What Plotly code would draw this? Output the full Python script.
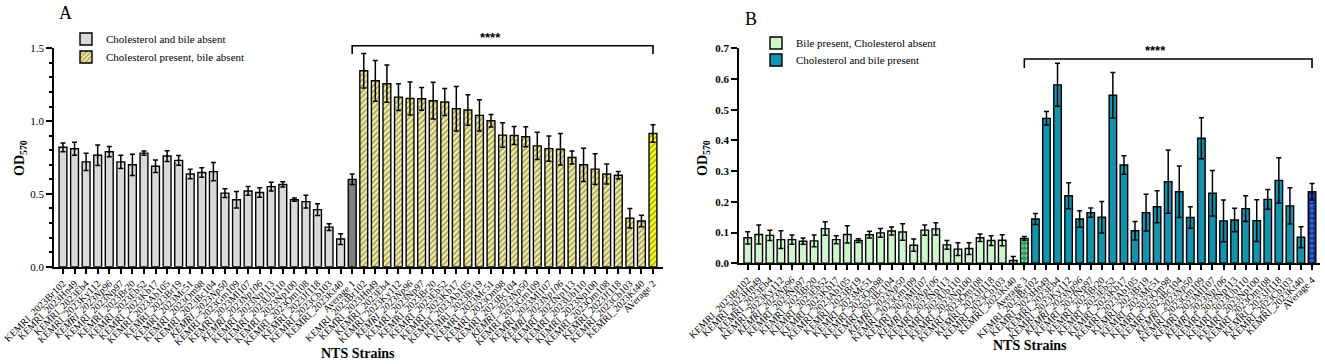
import plotly.graph_objects as go

# ---------------- data ----------------
strains = ["KEMRI_2023Br102", "KEMRI_2023Hn49", "KEMRI_2023Eb4", "KEMRI_2023Ky112", "KEMRI_2023Np96",
           "KEMRI_2023Np97", "KEMRI_2023Br20", "KEMRI_2023Eb52", "KEMRI_2023Kb17", "KEMRI_2023Ab105",
           "KEMRI_2023Br19", "KEMRI_2023Mc51", "KEMRI_2023Om98", "KEMRI_2023Bc104", "KEMRI_2023Np50",
           "KEMRI_2023Gm109", "KEMRI_2023Ml107", "KEMRI_2023Np106", "KEMRI_2023Np113", "KEMRI_2023Ub110",
           "KEMRI_2023Np100", "KEMRI_2023Om108", "KEMRI_2023Jf118", "KEMRI_2023Cb103", "KEMRI_2023Kt40"]
italic_strains = ["KEMRI_2023Np96", "KEMRI_2023Np50", "KEMRI_2023Np106"]
avg_labels_A = ["Average 1", "AVerage 2"]
avg_labels_B = ["Average 3", "AVerage 4"]

# Panel A
a_g1 = [0.82, 0.81, 0.72, 0.765, 0.79, 0.72, 0.70, 0.78, 0.69, 0.76, 0.73, 0.637, 0.647, 0.653, 0.505,
        0.46, 0.52, 0.51, 0.55, 0.565, 0.46, 0.447, 0.392, 0.272, 0.19]
a_g1_err = [0.03, 0.045, 0.06, 0.07, 0.035, 0.046, 0.073, 0.015, 0.043, 0.037, 0.033, 0.033, 0.033, 0.062,
            0.03, 0.057, 0.03, 0.033, 0.03, 0.018, 0.011, 0.043, 0.041, 0.023, 0.037]
a_avg1, a_avg1_err = 0.60, 0.036
a_g2 = [1.346, 1.277, 1.257, 1.165, 1.155, 1.153, 1.14, 1.131, 1.085, 1.076, 1.039, 1.002, 0.904, 0.901,
        0.892, 0.83, 0.811, 0.807, 0.75, 0.70, 0.67, 0.637, 0.628, 0.333, 0.314]
a_g2_err = [0.119, 0.14, 0.128, 0.092, 0.113, 0.078, 0.126, 0.093, 0.153, 0.105, 0.107, 0.043, 0.084, 0.062,
            0.069, 0.094, 0.086, 0.108, 0.044, 0.114, 0.105, 0.069, 0.025, 0.067, 0.039]
a_avg2, a_avg2_err = 0.915, 0.06

# Panel B
b_g3 = [0.083, 0.094, 0.091, 0.077, 0.077, 0.072, 0.073, 0.113, 0.077, 0.094, 0.074, 0.093, 0.099, 0.105,
        0.102, 0.059, 0.108, 0.112, 0.06, 0.046, 0.048, 0.083, 0.074, 0.075, 0.009]
b_g3_err = [0.02, 0.031, 0.017, 0.029, 0.015, 0.01, 0.019, 0.022, 0.013, 0.028, 0.006, 0.011, 0.014, 0.013,
            0.027, 0.02, 0.017, 0.02, 0.014, 0.021, 0.019, 0.012, 0.016, 0.018, 0.013]
b_avg3, b_avg3_err = 0.081, 0.006
b_g4 = [0.144, 0.472, 0.581, 0.22, 0.144, 0.165, 0.15, 0.547, 0.32, 0.106, 0.165, 0.184, 0.266, 0.233,
        0.149, 0.407, 0.228, 0.138, 0.141, 0.178, 0.139, 0.208, 0.27, 0.187, 0.085]
b_g4_err = [0.018, 0.022, 0.07, 0.042, 0.027, 0.015, 0.051, 0.074, 0.03, 0.03, 0.06, 0.052, 0.103, 0.084,
            0.035, 0.067, 0.074, 0.068, 0.038, 0.042, 0.068, 0.032, 0.074, 0.059, 0.034]
b_avg4, b_avg4_err = 0.233, 0.027

legend_A = ["Cholesterol and bile absent", "Cholesterol present, bile absent"]
legend_B = ["Bile present, Cholesterol absent", "Cholesterol and bile present"]

# ---------------- styling ----------------
SERIF = "Liberation Serif"
W, H = 1325, 364
BW = 0.68
n = len(strains)

def fmt(s):
    return "<i>" + s + "</i>" if s in italic_strains else s

tick_A = [fmt(s) for s in strains] + [avg_labels_A[0]] + [fmt(s) for s in strains] + [avg_labels_A[1]]
tick_B = [fmt(s) for s in strains] + [avg_labels_B[0]] + [fmt(s) for s in strains] + [avg_labels_B[1]]
pos_g1 = list(range(n))
pos_avg1 = [n]
pos_g2 = list(range(n + 1, 2 * n + 1))
pos_avg2 = [2 * n + 1]
all_pos = list(range(2 * n + 2))

xrA = [-0.75, 2 * n + 1 + 0.84]
xrB = [-0.76, 2 * n + 1 + 0.72]

line = dict(color="black", width=1.4)

def err(arr):
    return dict(type="data", array=arr, visible=True, color="black", thickness=1.5, width=2.5)

fig = go.Figure()

# Panel A traces
fig.add_trace(go.Bar(x=pos_g1, y=a_g1, error_y=err(a_g1_err), width=BW, name=legend_A[0],
                     marker=dict(color="#d9d9d9", line=line), xaxis="x", yaxis="y", legend="legend"))
fig.add_trace(go.Bar(x=pos_avg1, y=[a_avg1], error_y=err([a_avg1_err]), width=BW, showlegend=False,
                     marker=dict(color="#7f7f7f", line=line), xaxis="x", yaxis="y"))
fig.add_trace(go.Bar(x=pos_g2, y=a_g2, error_y=err(a_g2_err), width=BW, name=legend_A[1],
                     marker=dict(color="#f2ec9c", line=line,
                                 pattern=dict(shape="/", fgcolor="#3a3a28", size=4, solidity=0.35,
                                              fillmode="overlay")),
                     xaxis="x", yaxis="y", legend="legend3"))
fig.add_trace(go.Bar(x=pos_avg2, y=[a_avg2], error_y=err([a_avg2_err]), width=BW, showlegend=False,
                     marker=dict(color="#ffff1a", line=line,
                                 pattern=dict(shape="/", fgcolor="#3a3a28", size=4, solidity=0.35,
                                              fillmode="overlay")),
                     xaxis="x", yaxis="y"))

# Panel B traces
fig.add_trace(go.Bar(x=pos_g1, y=b_g3, error_y=err(b_g3_err), width=BW, name=legend_B[0],
                     marker=dict(color="#cdf6cd", line=line), xaxis="x2", yaxis="y2", legend="legend2"))
fig.add_trace(go.Bar(x=pos_avg1, y=[b_avg3], error_y=err([b_avg3_err]), width=BW, showlegend=False,
                     marker=dict(color="#1f9e55", line=line,
                                 pattern=dict(shape=".", fgcolor="white", size=5, solidity=0.4,
                                              fillmode="overlay")),
                     xaxis="x2", yaxis="y2"))
fig.add_trace(go.Bar(x=pos_g2, y=b_g4, error_y=err(b_g4_err), width=BW, name=legend_B[1],
                     marker=dict(color="#1592ad", line=line), xaxis="x2", yaxis="y2", legend="legend4"))
fig.add_trace(go.Bar(x=pos_avg2, y=[b_avg4], error_y=err([b_avg4_err]), width=BW, showlegend=False,
                     marker=dict(color="#1b2a9e", line=line,
                                 pattern=dict(shape=".", fgcolor="#38c6e0", size=5, solidity=0.4,
                                              fillmode="overlay")),
                     xaxis="x2", yaxis="y2"))

axis_common = dict(showline=True, linecolor="black", linewidth=2, ticks="outside", tickcolor="black",
                   tickwidth=2, showgrid=False, zeroline=False, automargin=False)

def leg(x, y):
    return dict(x=x / W, y=1 - y / H, xanchor="left", yanchor="middle", bgcolor="rgba(0,0,0,0)",
                font=dict(size=11, family=SERIF), tracegroupgap=0)

fig.update_layout(
    width=W, height=H, margin=dict(l=0, r=0, t=0, b=0, autoexpand=False),
    paper_bgcolor="white", plot_bgcolor="white",
    font=dict(family=SERIF, color="black"),
    barmode="overlay",
    xaxis=dict(domain=[54.3 / W, 662.7 / W], range=xrA, tickmode="array", tickvals=all_pos, ticktext=tick_A,
               tickangle=-45, ticklen=5, tickfont=dict(size=10, family=SERIF), anchor="y", **axis_common),
    yaxis=dict(domain=[1 - 266.7 / H, 1 - 48.3 / H], range=[0, 1.5], dtick=0.5, tickformat=".1f", ticklen=6,
               tickfont=dict(size=11, family=SERIF), anchor="x",
               minor=dict(dtick=0.1, ticklen=3, tickwidth=1.5, tickcolor="black", ticks="outside"),
               **axis_common),
    xaxis2=dict(domain=[739.3 / W, 1320 / W], range=xrB, tickmode="array", tickvals=all_pos, ticktext=tick_B,
                tickangle=-45, ticklen=5, tickfont=dict(size=10, family=SERIF), anchor="y2", **axis_common),
    yaxis2=dict(domain=[1 - 263.3 / H, 1 - 48.3 / H], range=[0, 0.7], dtick=0.1, tickformat=".1f", ticklen=6,
                tickfont=dict(size=11, family=SERIF, weight="bold"), anchor="x2", **axis_common),
    legend=leg(66, 39),
    legend3=leg(66, 57),
    legend2=leg(756, 43),
    legend4=leg(756, 60),
)

# significance brackets (positions from bar indices via axis ranges)
def dom_x(idx, xr):
    return (idx - xr[0]) / (xr[1] - xr[0])

def bracket(xr, xa, ya, i0, i1, ytop, ybot, ytext):
    xa0, xa1 = dom_x(i0, xr), dom_x(i1, xr)
    xref, yref = xa + " domain", ya + " domain"
    fig.add_shape(type="path",
                  path=f"M {xa0} {ybot} L {xa0} {ytop} L {xa1} {ytop} L {xa1} {ybot}",
                  xref=xref, yref=yref, line=dict(color="black", width=1.6))
    fig.add_annotation(x=(xa0 + xa1) / 2, y=ytext, xref=xref, yref=yref, text="<b>****</b>",
                       showarrow=False, font=dict(size=13, family="Arial"), yanchor="middle")

bracket(xrA, "x", "y", pos_avg1[0], pos_avg2[0], 1.012, 0.974, 1.048)
bracket(xrB, "x2", "y2", pos_avg1[0], pos_avg2[0], 0.950, 0.908, 0.990)

# panel letters and titles
for txt, x, y, size in [("A", 65, 13, 18), ("B", 751, 19, 18)]:
    fig.add_annotation(x=x / W, y=1 - y / H, xref="paper", yref="paper", text=txt, showarrow=False,
                       font=dict(size=size, family=SERIF), xanchor="center", yanchor="middle")
for x, y in [(20, 158), (703, 158)]:
    fig.add_annotation(x=x / W, y=1 - y / H, xref="paper", yref="paper", text="<b>OD<sub>570</sub></b>",
                       showarrow=False, textangle=-90, font=dict(size=14, family=SERIF),
                       xanchor="center", yanchor="middle")
for x, y in [(358, 353), (1030, 345)]:
    fig.add_annotation(x=x / W, y=1 - y / H, xref="paper", yref="paper", text="<b>NTS Strains</b>",
                       showarrow=False, font=dict(size=14, family=SERIF), xanchor="center", yanchor="middle")

fig.write_html("out.html", config={"displayModeBar": False},
               post_script="document.body.style.margin='0px';document.body.style.overflow='hidden';")
